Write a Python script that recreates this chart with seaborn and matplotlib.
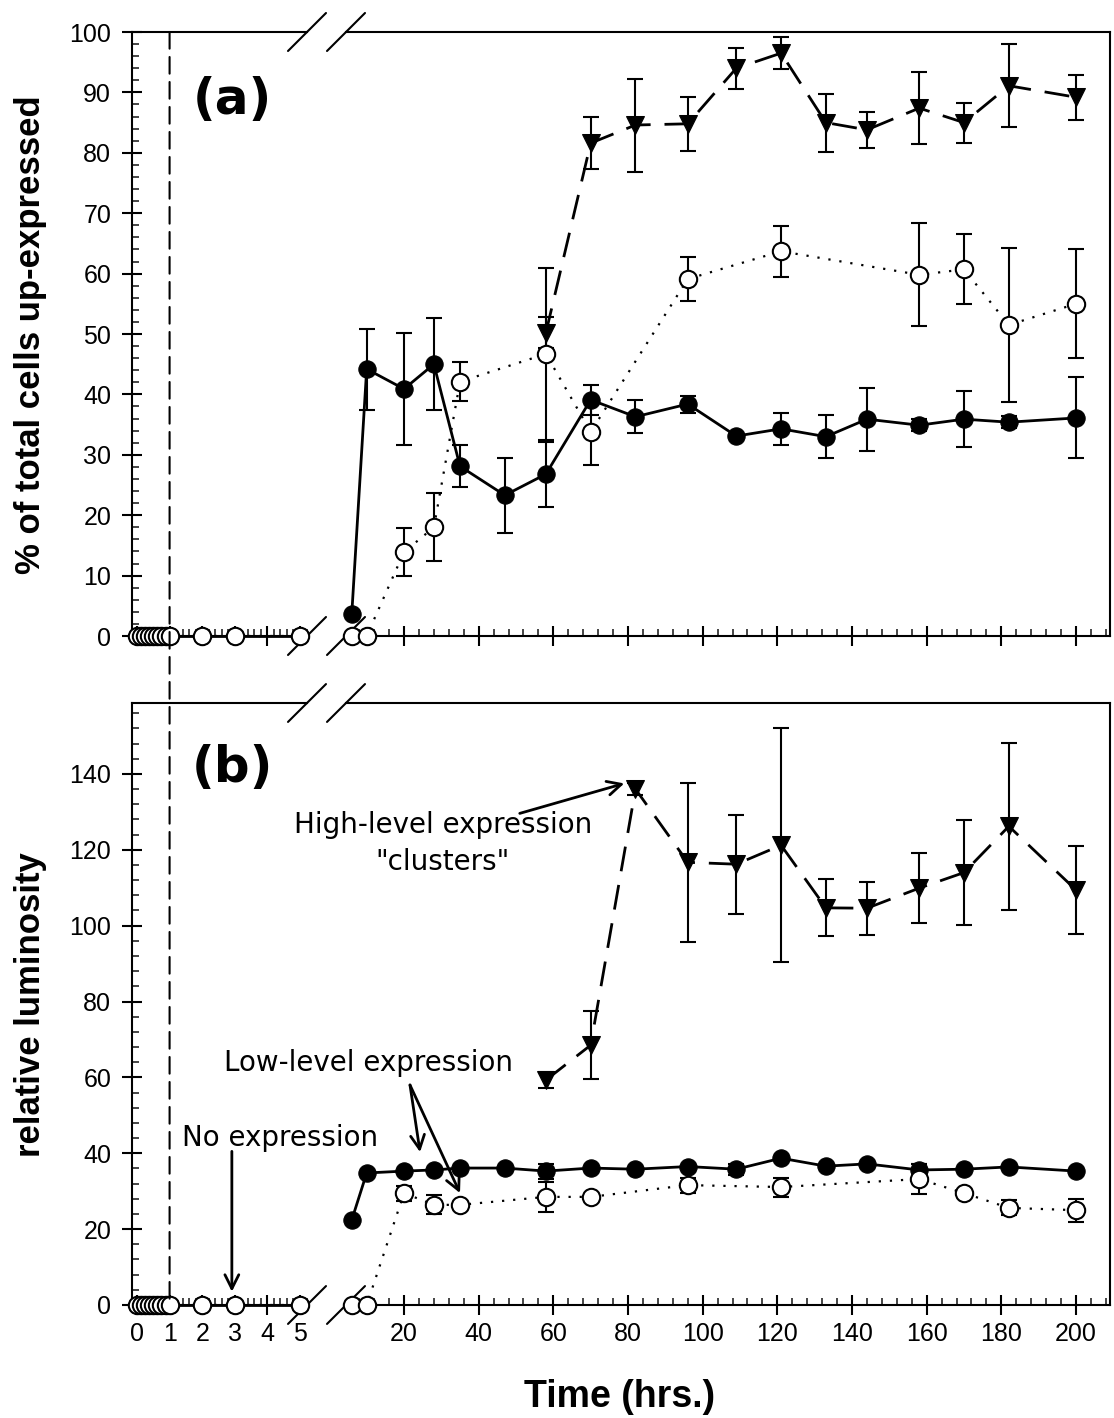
import numpy as np
import pandas as pd
import matplotlib
matplotlib.use('Agg')
import matplotlib.pyplot as plt
import seaborn as sns
from matplotlib.lines import Line2D
from matplotlib.patches import ConnectionPatch
from matplotlib.ticker import MultipleLocator, FixedLocator

sns.set_style('ticks')
plt.rcParams['font.family'] = ['Liberation Sans', 'DejaVu Sans']
plt.rcParams['text.color'] = 'black'
plt.rcParams['axes.labelcolor'] = 'black'

# ---- data ----
# early time points, hrs (left part of the broken axis) - everything is zero
t_early = [0, 0.125, 0.25, 0.375, 0.5, 0.625, 0.75, 0.875, 1, 2, 3, 5]
v_early = [0, 0, 0, 0, 0, 0, 0, 0, 0, 0, 0, 0]

# filled circles (solid line)
t_filled = [6, 10, 20, 28, 35, 47, 58, 70, 82, 96, 109, 121, 133, 144, 158, 170, 182, 200]
a_filled = [3.6, 44.2, 40.9, 45.0, 28.1, 23.3, 26.8, 39.1, 36.3, 38.4, 33.1, 34.3, 33.0, 35.9, 34.9, 35.9, 35.4, 36.1]
a_filled_err = [0, 6.7, 9.2, 7.6, 3.5, 6.2, 5.4, 2.5, 2.7, 1.4, 0, 2.6, 3.6, 5.2, 1.0, 4.6, 1.0, 6.7]
b_filled = [22.4, 34.8, 35.3, 35.6, 36.1, 36.1, 35.3, 36.1, 35.8, 36.5, 35.8, 38.7, 36.6, 37.2, 35.6, 35.8, 36.4, 35.3]
b_filled_err = [0, 0, 0, 0, 0, 0, 2.0, 0, 0, 0, 1.5, 0, 0, 0, 1.5, 0, 0, 0]

# open circles (dotted line)
t_open = [6, 10, 20, 28, 35, 58, 70, 96, 121, 158, 170, 182, 200]
a_open = [0, 0, 13.9, 18.0, 42.1, 46.7, 33.8, 59.1, 63.7, 59.8, 60.7, 51.5, 55.0]
a_open_err = [0, 0, 4.0, 5.6, 3.2, 14.2, 5.5, 3.6, 4.2, 8.5, 5.8, 12.8, 9.0]
b_open = [0, 0, 29.5, 26.4, 26.4, 28.5, 28.5, 31.6, 31.1, 33.2, 29.5, 25.6, 25.0]
b_open_err = [0, 0, 2.0, 2.5, 0, 4.0, 0, 2.0, 2.5, 4.0, 0, 2.0, 3.0]

# filled triangles (dashed line)
t_tri = [58, 70, 82, 96, 109, 121, 133, 144, 158, 170, 182, 200]
a_tri = [50.2, 81.6, 84.6, 84.8, 94.0, 96.5, 85.0, 83.8, 87.4, 85.0, 91.1, 89.2]
a_tri_err = [2.6, 4.3, 7.7, 4.5, 3.4, 2.7, 4.8, 3.0, 6.0, 3.3, 6.9, 3.7]
b_tri = [59.3, 68.5, 136.0, 116.7, 116.2, 121.2, 104.7, 104.6, 109.9, 114.0, 126.2, 109.4]
b_tri_err = [2.0, 9.0, 1.5, 21.0, 13.0, 30.8, 7.5, 7.0, 9.3, 13.8, 22.0, 11.6]

early_ticks = [0, 1, 2, 3, 4, 5]
late_ticks = [20, 40, 60, 80, 100, 120, 140, 160, 180, 200]
a_yticks = [0, 10, 20, 30, 40, 50, 60, 70, 80, 90, 100]
b_yticks = [0, 20, 40, 60, 80, 100, 120, 140]

W, H = 1114, 1418
fig = plt.figure(figsize=(W / 100, H / 100), dpi=100)


def px_box(x0, y0, x1, y1):
    return [x0 / W, 1 - y1 / H, (x1 - x0) / W, (y1 - y0) / H]


filled_kw = dict(color='black', linestyle='-', linewidth=2, marker='o', markersize=12.5,
                 markerfacecolor='black', markeredgecolor='black', clip_on=False, zorder=3)
open_kw = dict(color='black', linestyle=(0, (1, 4)), linewidth=1.6, marker='o', markersize=12.5,
               markerfacecolor='white', markeredgecolor='black', markeredgewidth=1.5,
               clip_on=False, zorder=4)
tri_kw = dict(color='black', linestyle=(0, (9, 5)), linewidth=2, marker='v', markersize=13,
              markerfacecolor='black', markeredgecolor='black', clip_on=False, zorder=4)


def errbars(ax, t, v, e):
    df = pd.DataFrame({'t': t, 'v': v, 'e': e})
    df = df[df['e'] > 0]
    ax.errorbar(df['t'], df['v'], yerr=df['e'], fmt='none', ecolor='black',
                elinewidth=1.5, capsize=6, capthick=1.5, zorder=2, clip_on=False)


def style_axes(ax_l, ax_r, ylim, yticks, yminor, show_xlabels):
    for ax in (ax_l, ax_r):
        ax.set_facecolor('none')
        for s in ax.spines.values():
            s.set_linewidth(1.5)
            s.set_color('black')
        ax.tick_params(which='major', direction='inout', length=14, width=1.5,
                       labelsize=18, colors='black')
        ax.tick_params(which='minor', direction='in', length=5, width=1.2)
        ax.set_xlabel('')
        ax.set_ylabel('')
    ax_l.spines['right'].set_visible(False)
    ax_r.spines['left'].set_visible(False)
    ax_r.tick_params(axis='y', which='both', left=False, labelleft=False)
    ax_l.yaxis.set_major_locator(FixedLocator(yticks))
    ax_l.yaxis.set_minor_locator(MultipleLocator(yminor))
    ax_l.tick_params(axis='y', which='major', pad=8)
    ax_l.xaxis.set_major_locator(FixedLocator(early_ticks))
    ax_l.xaxis.set_minor_locator(MultipleLocator(0.2))
    ax_r.xaxis.set_major_locator(FixedLocator(late_ticks))
    ax_r.xaxis.set_minor_locator(MultipleLocator(4))
    for ax in (ax_l, ax_r):
        ax.tick_params(axis='x', which='major', pad=5, labelbottom=show_xlabels)
        ax.set_ylim(*ylim)
    ax_l.set_xlim(-0.153, 5.215)
    ax_r.set_xlim(4.46, 209.1)

    # break marks
    wl, wr, hh = 175.0, 764.0, 604.0
    d = 19.0
    for yy in (0, 1):
        ax_l.add_line(Line2D([1 - d / wl, 1 + d / wl], [yy - d / hh, yy + d / hh],
                             transform=ax_l.transAxes, color='black', lw=1.5, clip_on=False))
        ax_r.add_line(Line2D([-d / wr, d / wr], [yy - d / hh, yy + d / hh],
                             transform=ax_r.transAxes, color='black', lw=1.5, clip_on=False))


def draw_panel(ax_l, ax_r, filled, filled_err, opn, opn_err, tri, tri_err):
    # left (early) part
    sns.lineplot(x=t_early, y=v_early, ax=ax_l, **filled_kw)
    sns.lineplot(x=t_early, y=v_early, ax=ax_l, **open_kw)
    # right (late) part
    errbars(ax_r, t_filled, filled, filled_err)
    errbars(ax_r, t_open, opn, opn_err)
    errbars(ax_r, t_tri, tri, tri_err)
    sns.lineplot(x=t_filled, y=filled, ax=ax_r, **filled_kw)
    sns.lineplot(x=t_open, y=opn, ax=ax_r, **open_kw)
    sns.lineplot(x=t_tri, y=tri, ax=ax_r, **tri_kw)


ax_la = fig.add_axes(px_box(132, 32, 307, 636))
ax_ra = fig.add_axes(px_box(346, 32, 1110, 636))
ax_lb = fig.add_axes(px_box(132, 703, 307, 1305))
ax_rb = fig.add_axes(px_box(346, 703, 1110, 1305))

draw_panel(ax_la, ax_ra, a_filled, a_filled_err, a_open, a_open_err, a_tri, a_tri_err)
draw_panel(ax_lb, ax_rb, b_filled, b_filled_err, b_open, b_open_err, b_tri, b_tri_err)

style_axes(ax_la, ax_ra, (0, 100), a_yticks, 2, False)
style_axes(ax_lb, ax_rb, (0, 158.7), b_yticks, 4, True)

# dashed line at t = 1 h running through both panels
con = ConnectionPatch(xyA=(1, 100), coordsA=ax_la.transData,
                      xyB=(1, 0), coordsB=ax_lb.transData,
                      color='black', lw=1.5, linestyle=(0, (8, 4)))
fig.add_artist(con)

# labels
fig.text(31 / W, 1 - 335 / H, '% of total cells up-expressed', rotation=90,
         ha='center', va='center', fontsize=25, fontweight='bold')
fig.text(31 / W, 1 - 1005 / H, 'relative luminosity', rotation=90,
         ha='center', va='center', fontsize=25, fontweight='bold')
fig.text(620 / W, 1 - 1397 / H, 'Time (hrs.)', ha='center', va='center',
         fontsize=27, fontweight='bold')
fig.text(232 / W, 1 - 100 / H, '(a)', ha='center', va='center', fontsize=36,
         fontweight='bold', family='DejaVu Sans')
fig.text(232 / W, 1 - 768 / H, '(b)', ha='center', va='center', fontsize=36,
         fontweight='bold', family='DejaVu Sans')

# annotations in panel (b)
ann_font = dict(fontsize=20, family='DejaVu Sans')
arrow = dict(arrowstyle='->', color='black', lw=2, mutation_scale=25, shrinkA=0, shrinkB=0)
ax_rb.text(30.4, 126.5, 'High-level expression', ha='center', va='center', **ann_font)
ax_rb.text(30.4, 116.7, '"clusters"', ha='center', va='center', **ann_font)
ax_rb.annotate('', xy=(79, 137.5), xytext=(51, 129.6), arrowprops=arrow, annotation_clip=False)
ax_rb.text(10.4, 63.8, 'Low-level expression', ha='center', va='center', **ann_font)
ax_rb.annotate('', xy=(24.3, 40.3), xytext=(21.6, 58), arrowprops=arrow, annotation_clip=False)
ax_rb.annotate('', xy=(35, 29.5), xytext=(21.6, 58), arrowprops=arrow, annotation_clip=False)
ax_lb.text(4.39, 44, 'No expression', ha='center', va='center', clip_on=False, **ann_font)
ax_lb.annotate('', xy=(2.91, 3.5), xytext=(2.91, 40.5), arrowprops=arrow, annotation_clip=False)

fig.savefig('out.png', dpi=100, facecolor='white')
